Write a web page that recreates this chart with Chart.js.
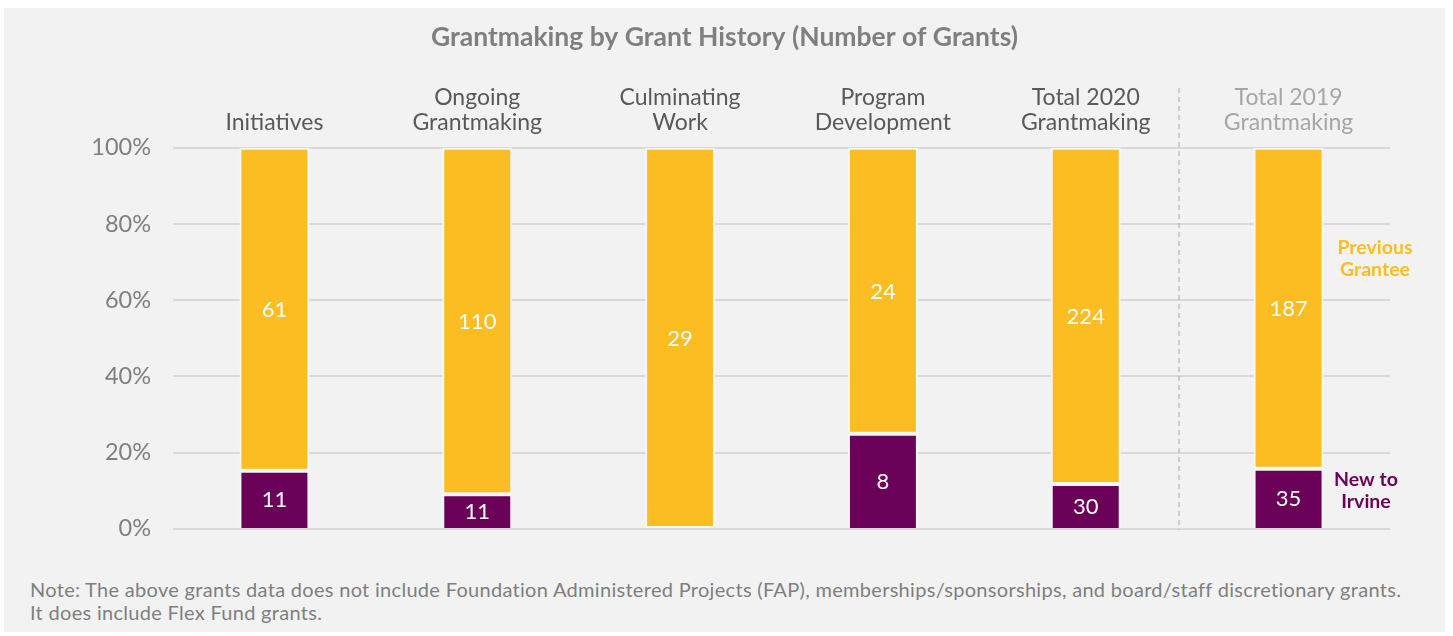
<!DOCTYPE html>
<html lang="en">
<head>
  <meta charset="UTF-8" />
  <title>Grantmaking by Grant History</title>
  <script src="https://cdn.jsdelivr.net/npm/chart.js"></script>
  <style>
    body {
      margin: 0;
      background: #fff;
      font-family: Lato, sans-serif;
    }
    .panel {
      position: absolute;
      left: 4px;
      top: 8px;
      width: 1441px;
      height: 624px;
      background: #f2f2f2;
    }
    #chart {
      position: absolute;
      left: 0;
      top: 0;
    }
    .note {
      position: absolute;
      left: 26px;
      top: 570px;
      font-size: 20px;
      letter-spacing: 0.3px;
      line-height: 23px;
      color: #7f7f7f;
      white-space: nowrap;
    }
  </style>
</head>
<body>
  <div class="panel">
    <canvas id="chart" width="1441" height="557"></canvas>
    <div class="note">
      Note: The above grants data does not include Foundation Administered Projects (FAP), memberships/sponsorships, and board/staff discretionary grants.<br>
      It does include Flex Fund grants.
    </div>
  </div>

  <script>
    const categories = [
      ['Initiatives'],
      ['Ongoing', 'Grantmaking'],
      ['Culminating', 'Work'],
      ['Program', 'Development'],
      ['Total 2020', 'Grantmaking'],
      ['Total 2019', 'Grantmaking']
    ];
    const newToIrvine = [11, 11, 0, 8, 30, 35];
    const previousGrantee = [61, 110, 29, 24, 224, 187];
    const yTicks = [0, 20, 40, 60, 80, 100];

    const YELLOW = '#fbbd21';
    const PURPLE = '#6b0059';

    const totals = newToIrvine.map((n, i) => n + previousGrantee[i]);
    const newPct = newToIrvine.map((n, i) => n / totals[i] * 100);
    const prevPct = previousGrantee.map((p, i) => p / totals[i] * 100);
    const counts = [newToIrvine, previousGrantee];

    // white count labels inside each segment
    const segmentLabels = {
      id: 'segmentLabels',
      afterDatasetsDraw(chart) {
        const ctx = chart.ctx;
        ctx.save();
        ctx.fillStyle = '#fff';
        ctx.font = '22px Lato';
        ctx.textAlign = 'center';
        ctx.textBaseline = 'middle';
        chart.data.datasets.forEach((ds, d) => {
          chart.getDatasetMeta(d).data.forEach((bar, i) => {
            const v = counts[d][i];
            if (!v) return;
            ctx.fillText(String(v), bar.x, (bar.y + bar.base) / 2 + 1);
          });
        });
        ctx.restore();
      }
    };

    // dashed separator + series names on the right
    const extras = {
      id: 'extras',
      beforeDatasetsDraw(chart) {
        const ctx = chart.ctx;
        const x = chart.scales.x.getPixelForValue(4.46);
        ctx.save();
        ctx.strokeStyle = '#a6a6a6';
        ctx.lineWidth = 1;
        ctx.setLineDash([5, 4]);
        ctx.beginPath();
        ctx.moveTo(x, 80);
        ctx.lineTo(x, chart.chartArea.bottom + 1);
        ctx.stroke();
        ctx.restore();
      },
      afterDraw(chart) {
        const ctx = chart.ctx;
        const y = chart.scales.y;
        const right = chart.chartArea.right;
        ctx.save();
        ctx.font = 'bold 19.5px Lato';
        ctx.textAlign = 'center';
        ctx.textBaseline = 'middle';
        ctx.fillStyle = YELLOW;
        let cy = y.getPixelForValue(71);
        ctx.fillText('Previous', right - 15, cy - 11);
        ctx.fillText('Grantee', right - 15, cy + 11);
        ctx.fillStyle = PURPLE;
        cy = y.getPixelForValue(10);
        ctx.fillText('New to', right - 24, cy - 11);
        ctx.fillText('Irvine', right - 24, cy + 11);
        ctx.restore();
      }
    };

    const barStyle = {
      borderColor: '#f7f7f7',
      borderWidth: 2,
      barPercentage: 0.345,
      categoryPercentage: 1
    };

    new Chart(document.getElementById('chart'), {
      type: 'bar',
      data: {
        labels: categories,
        datasets: [
          Object.assign({ label: 'New to Irvine', data: newPct, backgroundColor: PURPLE, borderSkipped: 'start' }, barStyle),
          Object.assign({ label: 'Previous Grantee', data: prevPct, backgroundColor: YELLOW, borderSkipped: false }, barStyle)
        ]
      },
      options: {
        responsive: false,
        animation: false,
        layout: { padding: { left: 0, right: 0, top: 0, bottom: 9 } },
        plugins: {
          legend: { display: false },
          tooltip: { enabled: false },
          title: {
            display: true,
            text: 'Grantmaking by Grant History (Number of Grants)',
            color: '#7f7f7f',
            font: { family: 'Lato', size: 26.5, weight: 'bold' },
            padding: { top: 14, bottom: 10 }
          }
        },
        scales: {
          x: {
            position: 'top',
            stacked: true,
            grid: { display: false, drawTicks: false },
            border: { display: false },
            ticks: {
              padding: 13,
              maxRotation: 0,
              autoSkip: false,
              color: ctx => ctx.index === 5 ? '#a6a6a6' : '#595959',
              font: { family: 'Lato', size: 23, lineHeight: 1.09 }
            },
            afterFit(scale) { scale.height = 84; }
          },
          y: {
            stacked: true,
            min: 0,
            max: 100,
            afterBuildTicks(scale) { scale.ticks = yTicks.map(v => ({ value: v })); },
            grid: { color: '#d9d9d9', lineWidth: 2, drawTicks: false },
            border: { display: false },
            ticks: {
              padding: 22,
              color: '#7f7f7f',
              font: { family: 'Lato', size: 23.5 },
              callback: v => v + '%'
            },
            afterFit(scale) { scale.width = 169; }
          },
          // empty right-hand strip so the title stays centred on the whole panel
          yRight: {
            position: 'right',
            display: true,
            grid: { display: false, drawTicks: false },
            border: { display: false },
            ticks: { display: false },
            afterFit(scale) { scale.width = 55; }
          }
        }
      },
      plugins: [segmentLabels, extras]
    });
  </script>
</body>
</html>
